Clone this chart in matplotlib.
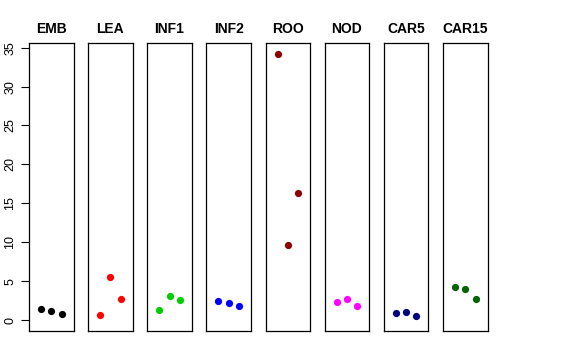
import matplotlib
matplotlib.use('Agg')
import matplotlib.pyplot as plt

# tissues and their three replicate values
tissues = ['EMB', 'LEA', 'INF1', 'INF2', 'ROO', 'NOD', 'CAR5', 'CAR15']
emb = [1.37, 1.11, 0.73]
lea = [0.64, 5.57, 2.70]
inf1 = [1.33, 3.08, 2.61]
inf2 = [2.44, 2.23, 1.80]
roo = [34.2, 9.6, 16.3]
nod = [2.27, 2.70, 1.80]
car5 = [0.90, 1.07, 0.51]
car15 = [4.28, 3.98, 2.70]
values = [emb, lea, inf1, inf2, roo, nod, car5, car15]
colors = ['black', '#FF0000', '#00CD00', '#0000FF', '#8B0000', '#FF00FF', '#000080', '#006400']
reps = [1, 2, 3]

plt.rcParams['font.family'] = ['Liberation Sans', 'DejaVu Sans']

W, H = 576, 360
fig = plt.figure(figsize=(W / 100, H / 100), dpi=100)

left0 = 29
pitch = 59.15
pw = 44.5
top, bottom = 43, 331

for i, (name, vals, col) in enumerate(zip(tissues, values, colors)):
    x0 = left0 + i * pitch
    ax = fig.add_axes([x0 / W, 1 - bottom / H, pw / W, (bottom - top) / H])
    ax.plot(reps, vals, 'o', color=col, markersize=5.2, markeredgewidth=0)
    ax.set_xlim(-0.16, 4.16)
    ax.set_ylim(-1.41, 35.6)
    ax.set_xticks([])
    for sp in ax.spines.values():
        sp.set_linewidth(0.9)
        sp.set_color('black')
    ax.set_title(name, fontsize=10, fontweight='bold', pad=7)
    if i == 0:
        ax.set_yticks(range(0, 36, 5))
        ax.tick_params(axis='y', length=6, width=0.8, labelsize=9, pad=3)
        for lab in ax.get_yticklabels():
            lab.set_rotation(90)
            lab.set_va('center')
    else:
        ax.set_yticks([])

fig.savefig('out.png', dpi=100)
